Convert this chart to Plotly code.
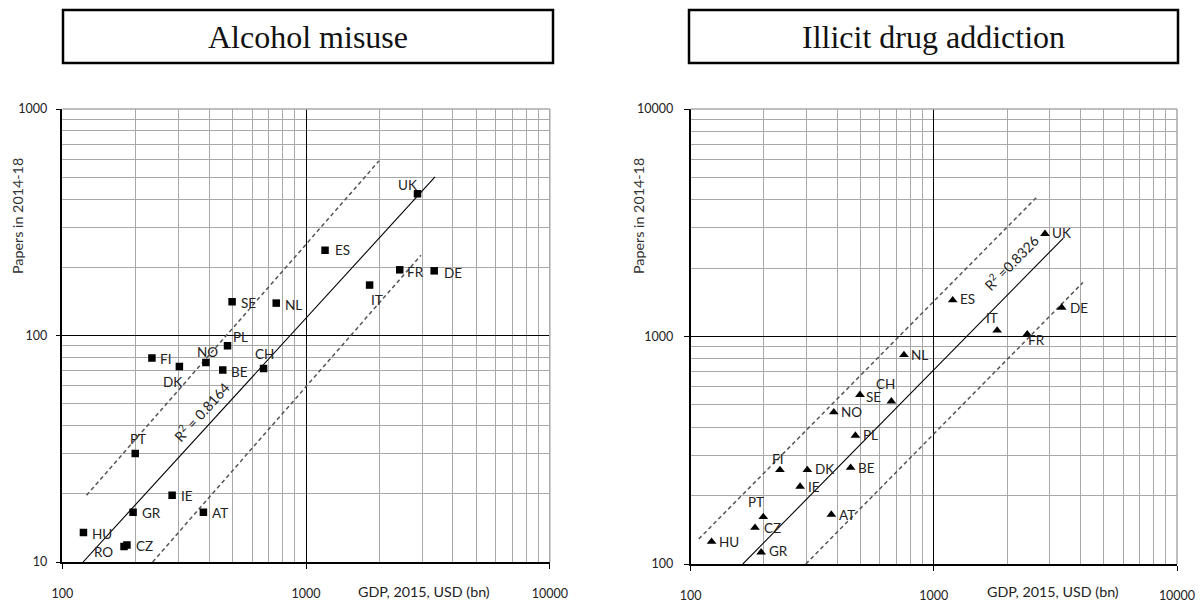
import numpy as np
import plotly.graph_objects as go

# ---------------- data ----------------
countries_alcohol = ["UK", "ES", "FR", "DE", "IT", "SE", "NL", "PL", "NO", "FI",
                     "DK", "BE", "CH", "PT", "IE", "GR", "AT", "HU", "CZ", "RO"]
gdp_alcohol = [2865, 1196, 2422, 3355, 1822, 497, 754, 476, 388, 233,
               302, 455, 669, 199, 282, 195, 379, 122, 184, 179]
papers_alcohol = [422, 238, 195, 193, 167, 141, 139, 90, 76, 79.6,
                  73, 70.5, 71.5, 30.1, 19.7, 16.6, 16.6, 13.5, 11.9, 11.7]

countries_drug = ["UK", "ES", "FR", "DE", "IT", "SE", "NL", "PL", "NO", "FI",
                  "DK", "BE", "CH", "PT", "IE", "GR", "AT", "HU", "CZ"]
gdp_drug = [2865, 1196, 2422, 3355, 1822, 497, 754, 476, 388, 233,
            302, 455, 669, 199, 282, 195, 379, 122, 184]
papers_drug = [2829, 1444, 1024, 1341, 1063, 554, 830, 367, 465, 259,
               259, 265, 519, 161, 219, 112.5, 165, 125.4, 144.5]

# trend line and band end points (GDP, papers)
alc_fit_x, alc_fit_y = [121.6, 3381], [10, 501]
alc_up_x, alc_up_y = [125.6, 1991], [19.7, 590]
alc_lo_x, alc_lo_y = [234.6, 2958], [10, 226]
alc_r2 = "R<sup>2</sup> = 0.8164"

drug_fit_x, drug_fit_y = [164, 3410], [100, 2708]
drug_up_x, drug_up_y = [108, 2653], [128.8, 4102]
drug_lo_x, drug_lo_y = [297.6, 4105], [100, 1728]
drug_r2 = "R<sup>2</sup> =0.8326"

x_tick_vals = [100, 1000, 10000]
x_tick_labels = ["100", "1000", "10000"]
alc_y_tick_vals = [10, 100, 1000]
alc_y_tick_labels = ["10", "100", "1000"]
drug_y_tick_vals = [100, 1000, 10000]
drug_y_tick_labels = ["100", "1000", "10000"]

titles = ["Alcohol misuse", "Illicit drug addiction"]
x_title = "GDP, 2015, USD (bn)"
y_title = "Papers in 2014-18"

# ---------------- styling ----------------
W, H = 1202, 602
LBL_FONT = dict(family="Lato", size=13.5, color="#222")
TICK_FONT = dict(family="Lato", size=12.5, color="#222")

# label offsets in pixels (dx right, dy down)
alc_offsets = {"UK": (-10, -9), "ES": (17, 0), "FR": (16, 2), "DE": (19, 2), "IT": (7, 15),
               "SE": (16, 1), "NL": (17, 2), "PL": (13, -9), "NO": (2, -11), "FI": (14, 1),
               "DK": (-7, 16), "BE": (17, 2), "CH": (1, -15), "PT": (3, -15), "IE": (15, 1),
               "GR": (18, 1), "AT": (17, 1), "HU": (19, 2), "CZ": (18, 1), "RO": (-21, 5)}
drug_offsets = {"UK": (17, -1), "ES": (15, -1), "FR": (9, 6), "DE": (17, 0), "IT": (-5, -12),
                "SE": (14, 2), "NL": (16, 0), "PL": (15, -1), "NO": (18, 0), "FI": (-2, -11),
                "DK": (17, -1), "BE": (16, 0), "CH": (-6, -17), "PT": (-7, -15), "IE": (14, 0),
                "GR": (17, -1), "AT": (16, 0), "HU": (17, 0), "CZ": (17, 0)}

px_l = (62.4, 549.8, 109, 562)    # left, right, top, bottom (pixels)
px_r = (690.6, 1177, 109, 564)

fig = go.Figure()
annotations = []
shapes = []


def panel(xa, ya, gdp, papers, names, symbol, msize, fit, up, lo, offsets,
          r2, r2_t, r2_shift, r2_angle):
    for (lx, ly), dash, col in ((up, "4px,3px", "#555"), (lo, "4px,3px", "#555"),
                                (fit, "solid", "#000")):
        fig.add_trace(go.Scatter(x=lx, y=ly, mode="lines", xaxis=xa, yaxis=ya,
                                 line=dict(color=col, width=1.5 if dash != "solid" else 1.1, dash=dash),
                                 hoverinfo="skip"))
    fig.add_trace(go.Scatter(x=gdp, y=papers, mode="markers", xaxis=xa, yaxis=ya,
                             marker=dict(symbol=symbol, size=msize, color="#000",
                                         line=dict(width=0)),
                             hoverinfo="skip"))
    for n, gx, py in zip(names, gdp, papers):
        dx, dy = offsets[n]
        annotations.append(dict(x=np.log10(gx), y=np.log10(py), xref=xa, yref=ya,
                                text=n, showarrow=False, font=LBL_FONT,
                                xshift=dx, yshift=-dy))
    # R^2 label placed along the fit line
    fx = np.log10(fit[0]); fy = np.log10(fit[1])
    annotations.append(dict(x=fx[0] + r2_t * (fx[1] - fx[0]), y=fy[0] + r2_t * (fy[1] - fy[0]),
                            xref=xa, yref=ya, text=r2, showarrow=False,
                            font=dict(family="Lato", size=14, color="#222"),
                            textangle=r2_angle, yshift=r2_shift))


panel("x", "y", gdp_alcohol, papers_alcohol, countries_alcohol, "square", 7.5,
      (alc_fit_x, alc_fit_y), (alc_up_x, alc_up_y), (alc_lo_x, alc_lo_y),
      alc_offsets, alc_r2, 0.335, 22, -47.6)
panel("x2", "y2", gdp_drug, papers_drug, countries_drug, "triangle-up", 8.5,
      (drug_fit_x, drug_fit_y), (drug_up_x, drug_up_y), (drug_lo_x, drug_lo_y),
      drug_offsets, drug_r2, 0.836, 29, -45.5)


def ax(domain, rng, anchor, tv, tt, standoff):
    return dict(type="log", domain=domain, range=rng, anchor=anchor,
                automargin=False,
                tickmode="array", tickvals=tv, ticktext=tt,
                showgrid=True, gridcolor="#000", gridwidth=1.3,
                showline=True, linecolor="#000", linewidth=1.5,
                ticks="outside", ticklen=5, tickcolor="#000", tickwidth=1.2,
                ticklabelstandoff=standoff, tickfont=TICK_FONT,
                minor=dict(dtick="D1", showgrid=True, gridcolor="#a8a8a8",
                           gridwidth=1, ticks=""),
                zeroline=False, fixedrange=True)


def dom_x(p):
    return [p[0] / W, p[1] / W]


def dom_y(p):
    return [1 - p[3] / H, 1 - p[2] / H]


for p in (px_l, px_r):
    # gray outer edges (top and right) like the minor grid
    shapes.append(dict(type="line", xref="paper", yref="paper", layer="above",
                       x0=p[0] / W, x1=p[1] / W, y0=1 - p[2] / H, y1=1 - p[2] / H,
                       line=dict(color="#a8a8a8", width=1.5)))
    shapes.append(dict(type="line", xref="paper", yref="paper", layer="above",
                       x0=p[1] / W, x1=p[1] / W, y0=1 - p[3] / H, y1=1 - p[2] / H,
                       line=dict(color="#a8a8a8", width=1.5)))

# title boxes
boxes = [(63, 553), (689, 1178)]
for (bx0, bx1), t in zip(boxes, titles):
    shapes.append(dict(type="rect", xref="paper", yref="paper",
                       x0=bx0 / W, x1=bx1 / W, y0=1 - 63 / H, y1=1 - 10 / H,
                       line=dict(color="#000", width=2.5), fillcolor="rgba(0,0,0,0)"))
    annotations.append(dict(x=(bx0 + bx1) / 2 / W, y=1 - 37 / H, xref="paper", yref="paper",
                            text=t, showarrow=False, xanchor="center", yanchor="middle",
                            font=dict(family="Liberation Serif", size=32, color="#111")))

# axis titles
for xc in (424, 1053):
    annotations.append(dict(x=xc / W, y=1 - 591 / H, xref="paper", yref="paper",
                            text=x_title, showarrow=False, xanchor="center", yanchor="middle",
                            font=dict(family="Lato", size=14.3, color="#222")))
for xc in (17, 638):
    annotations.append(dict(x=xc / W, y=1 - 216 / H, xref="paper", yref="paper",
                            text=y_title, showarrow=False, xanchor="center", yanchor="middle",
                            textangle=-90,
                            font=dict(family="Lato", size=14.3, color="#333")))

fig.update_layout(
    width=W, height=H, margin=dict(l=0, r=0, t=0, b=0, autoexpand=False),
    paper_bgcolor="white", plot_bgcolor="white", showlegend=False,
    hovermode=False,
    xaxis=ax(dom_x(px_l), [2, 4], "y", x_tick_vals, x_tick_labels, 14),
    yaxis=ax(dom_y(px_l), [1, 3], "x", alc_y_tick_vals, alc_y_tick_labels, 6),
    xaxis2=ax(dom_x(px_r), [2, 4], "y2", x_tick_vals, x_tick_labels, 14),
    yaxis2=ax(dom_y(px_r), [2, 4], "x2", drug_y_tick_vals, drug_y_tick_labels, 8),
    annotations=annotations, shapes=shapes,
)

fig.write_html("out.html", config={"displayModeBar": False},
               post_script="document.body.style.margin='0';document.body.style.overflow='hidden';")
